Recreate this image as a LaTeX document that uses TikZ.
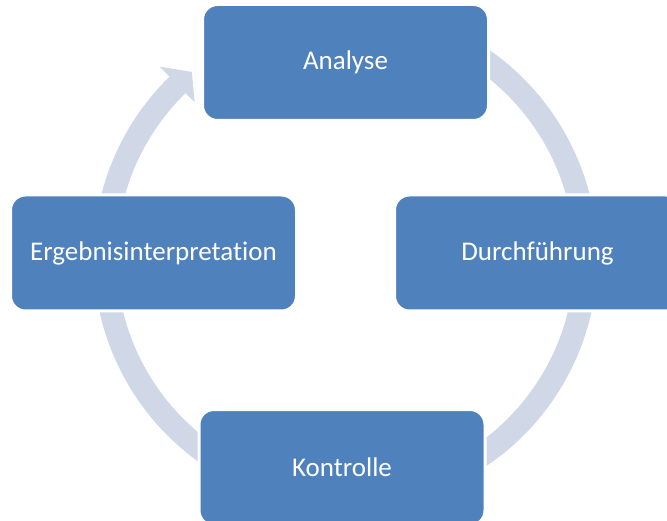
\documentclass[tikz,border=0pt]{standalone}
\usepackage{fontspec}
\setmainfont{Carlito}[Ligatures={NoCommon}]
\definecolor{boxblue}{HTML}{4F81BD}
\definecolor{ringcol}{HTML}{D0D8E8}
\begin{document}
\begin{tikzpicture}[x=1pt,y=1pt,
  stepbox/.style={rectangle, rounded corners=15pt, fill=boxblue, draw=white,
    line width=3pt, minimum width=286pt, minimum height=116pt, text=white,
    font=\fontsize{27}{32}\selectfont, inner sep=0pt}]
\useasboundingbox[fill=white] (0,0) rectangle (667,520);
\coordinate (c) at (345.5,263);
\fill[ringcol] ([shift={(c)}]70:252pt) arc[start angle=70, end angle=-225.7, radius=252pt]
  -- ([shift={(c)}]134.3:266pt) -- ([shift={(c)}]129.7:240.5pt)
  -- ([shift={(c)}]134.3:216pt) -- ([shift={(c)}]134.3:229pt)
  arc[start angle=-225.7, end angle=70, radius=229pt] -- cycle;
\node[stepbox] (a) at (345.5,457.5) {Analyse};
\node[stepbox] (d) at (537.5,267) {Durchführung};
\node[stepbox] (k) at (342,52.5) {Kontrolle};
\node[stepbox] (e) at (153.5,267) {Ergebnisinterpretation};
\end{tikzpicture}
\end{document}
